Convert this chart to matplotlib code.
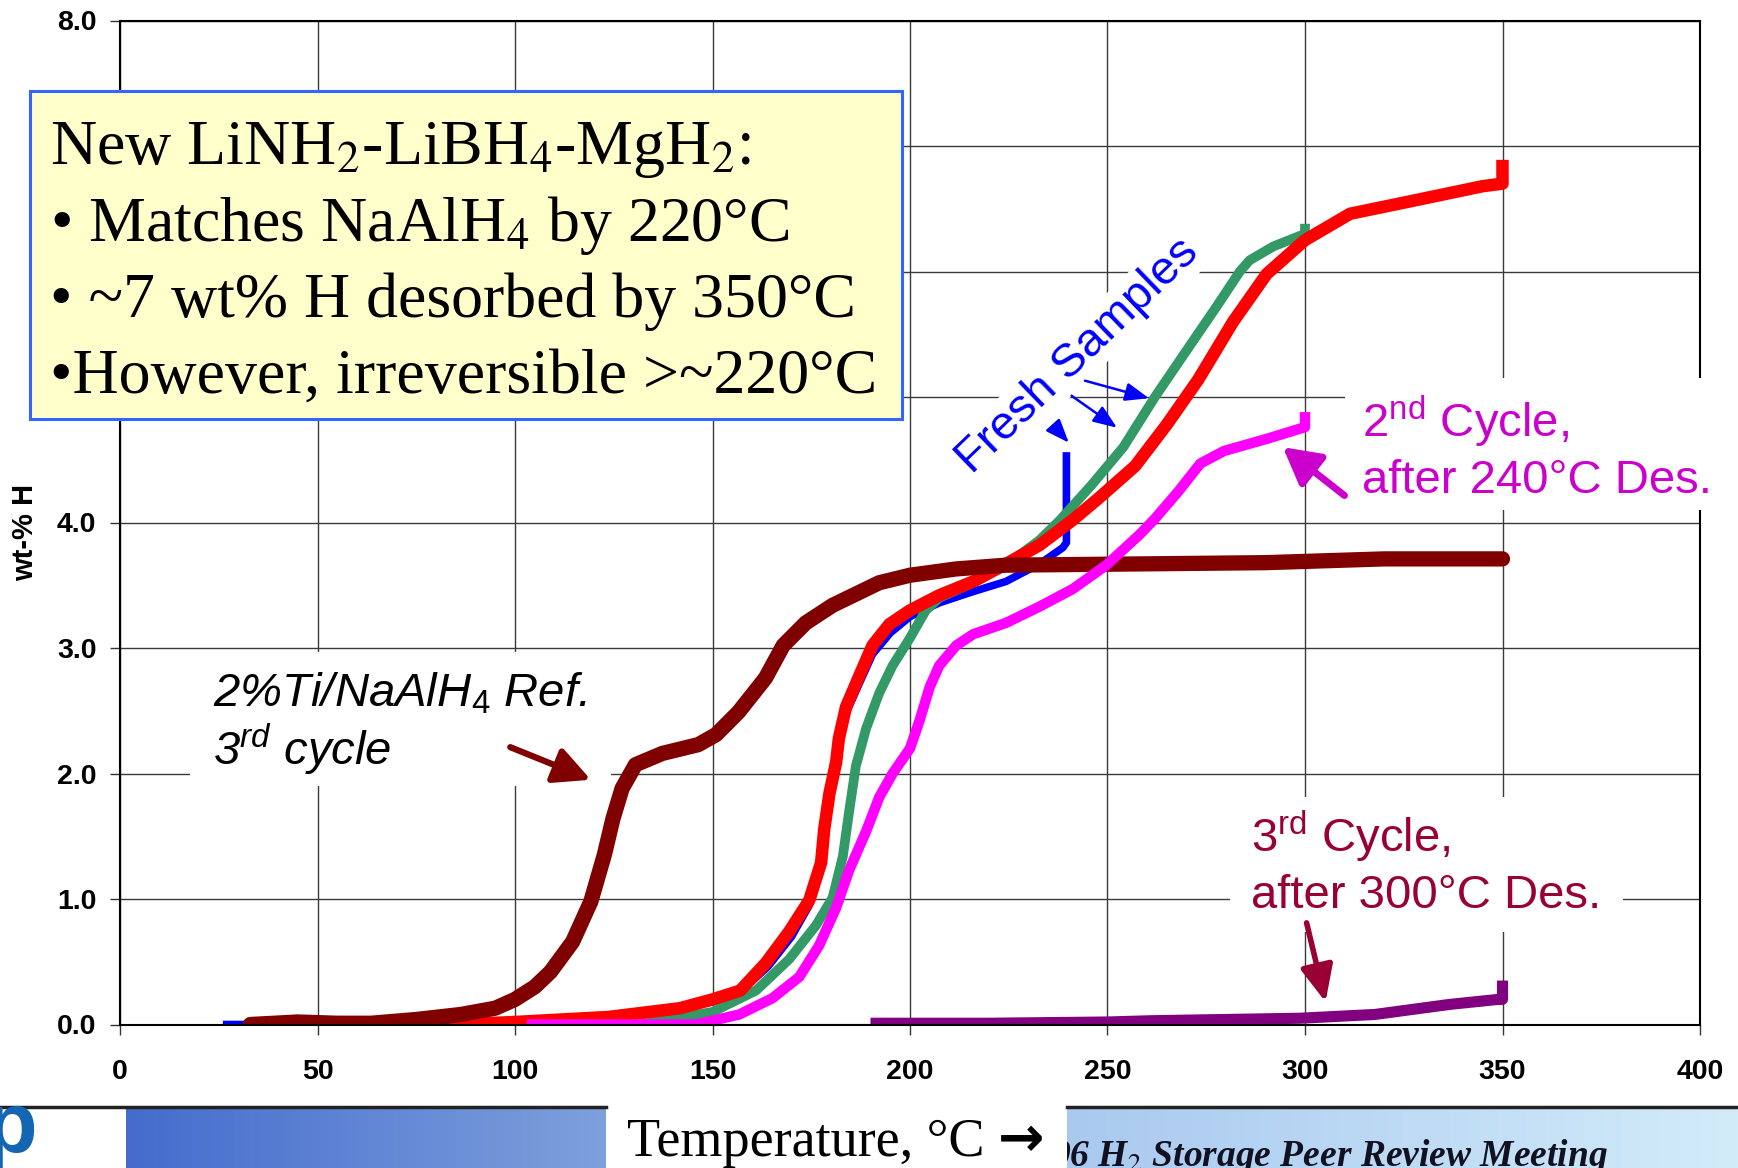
import numpy as np
import matplotlib.pyplot as plt
from matplotlib import font_manager
from matplotlib.patches import Rectangle
from matplotlib.lines import Line2D
from matplotlib.colors import LinearSegmentedColormap

# ---- data: temperature (C) vs wt-% H ----
# 2%Ti/NaAlH4 reference, 3rd cycle (dark red)
ref_x = [33, 45, 55, 63.6, 75, 86.3, 95, 100, 105, 109, 114.6, 119.2, 122.6, 124.8,
         127.1, 130.5, 137.3, 146.4, 150.9, 156.6, 163.4, 167.9, 173.6, 180.4, 192.2,
         200, 211.7, 224.3, 258, 290, 320, 350]
ref_y = [0.0, 0.02, 0.01, 0.01, 0.04, 0.08, 0.13, 0.2, 0.3, 0.42, 0.66, 0.98, 1.35, 1.64,
         1.88, 2.07, 2.16, 2.23, 2.31, 2.49, 2.76, 3.02, 3.2, 3.34, 3.52,
         3.58, 3.63, 3.66, 3.67, 3.68, 3.71, 3.71]

# fresh sample 1 (blue)
fresh1_x = [27, 40, 60, 80, 100, 120, 140, 150, 157, 164, 170, 174.5, 177.5, 178.3,
            179.6, 181.3, 182, 183.8, 187.2, 190.5, 195, 200, 207.4, 216, 224.3,
            232.8, 238.7, 239.6, 239.6]
fresh1_y = [0.0, 0.0, 0.0, 0.01, 0.02, 0.05, 0.12, 0.18, 0.26, 0.46, 0.7, 0.95, 1.27, 1.54,
            1.82, 2.07, 2.26, 2.48, 2.72, 2.95, 3.12, 3.25, 3.36, 3.45, 3.53,
            3.67, 3.8, 3.84, 4.53]

# fresh sample 2 (red)
fresh2_x = [85, 100, 123.7, 141.8, 150, 157, 163.5, 169.4, 174.5, 177.5, 178.3, 179.6,
            181.3, 182, 183.8, 187.2, 190.5, 194.8, 200, 207.4, 216, 224.3, 232.8,
            241.2, 248, 257, 265, 273, 281.8, 290.3, 300, 311.4, 328.3, 345, 350, 350]
fresh2_y = [0.0, 0.02, 0.06, 0.13, 0.2, 0.27, 0.49, 0.74, 0.99, 1.29, 1.56, 1.84,
            2.09, 2.28, 2.53, 2.78, 3.02, 3.19, 3.3, 3.42, 3.53, 3.67, 3.82,
            4.02, 4.2, 4.45, 4.78, 5.14, 5.6, 5.98, 6.25, 6.46, 6.57, 6.68, 6.7, 6.84]

# fresh sample 3 (green)
fresh3_x = [86, 100, 120, 131.4, 150, 161, 169.4, 176.2, 180.4, 183, 184.6, 186.3,
            188.9, 192.2, 195.6, 200, 204, 207.4, 216, 224.3, 232.8, 238, 246, 254,
            262, 270, 277.6, 283.5, 286, 292, 300, 300]
fresh3_y = [0.0, 0.0, 0.0, 0.0, 0.1, 0.27, 0.52, 0.79, 1.01, 1.34, 1.7, 2.06,
            2.36, 2.64, 2.86, 3.08, 3.3, 3.4, 3.52, 3.66, 3.86, 4.02, 4.3, 4.6,
            5.0, 5.37, 5.72, 6.0, 6.09, 6.2, 6.3, 6.38]

# 2nd cycle, after 240C desorption (magenta)
cyc2_x = [103, 130, 145.8, 156.8, 165.2, 172, 177, 181.3, 184.6, 188.9, 192.2, 195.6,
          200, 202.4, 205, 207.4, 211.7, 216, 224.3, 232.8, 241.2, 249.7, 258, 262,
          268, 273.5, 279.5, 290.7, 300, 300]
cyc2_y = [0.0, 0.0, 0.0, 0.08, 0.21, 0.38, 0.63, 0.93, 1.23, 1.54, 1.81, 2.0,
          2.2, 2.42, 2.69, 2.86, 3.02, 3.11, 3.2, 3.33, 3.47, 3.66, 3.9, 4.03,
          4.25, 4.47, 4.57, 4.67, 4.76, 4.88]

# 3rd cycle, after 300C desorption (purple)
cyc3_lead_x = [30, 190]
cyc3_lead_y = [0.0, 0.0]
cyc3_x = [190, 220, 250, 261, 280, 298.8, 317.7, 336.6, 348.9, 350, 350]
cyc3_y = [0.01, 0.01, 0.02, 0.03, 0.04, 0.05, 0.08, 0.16, 0.2, 0.2, 0.35]

x_ticks = [0, 50, 100, 150, 200, 250, 300, 350, 400]
y_ticks = [0, 1, 2, 3, 4, 5, 6, 7, 8]
# 5.0-7.0 sit under the yellow note box in the original
y_labels = ['0.0', '1.0', '2.0', '3.0', '4.0', '', '', '', '8.0']

# ---- fonts ----
installed = {f.name for f in font_manager.fontManager.ttflist}
narrow = 'Liberation Sans Narrow' in installed
tick_family = 'Liberation Sans Narrow' if narrow else 'Liberation Sans'
tick_size = 24 if narrow else 20.5

plt.rcParams['font.family'] = ['Liberation Sans', 'DejaVu Sans']
plt.rcParams['mathtext.fontset'] = 'custom'
plt.rcParams['mathtext.rm'] = 'Liberation Sans'
plt.rcParams['mathtext.it'] = 'Liberation Sans:italic'
plt.rcParams['mathtext.bf'] = 'Liberation Sans:bold'

W, H = 1738, 1168
fig = plt.figure(figsize=(W / 100, H / 100), dpi=100)


def fx(px):
    return px / W


def fy(py):
    return 1 - py / H


ax = fig.add_axes([fx(120), fy(1024.5), (1700 - 120) / W, (1024.5 - 20.5) / H])
ax.set_xlim(0, 400)
ax.set_ylim(0, 8)
ax.set_xticks(x_ticks, labels=[str(t) for t in x_ticks], fontsize=tick_size,
              fontweight='bold', fontfamily=tick_family)
ax.set_yticks(y_ticks, labels=y_labels, fontsize=tick_size,
              fontweight='bold', fontfamily=tick_family)
ax.tick_params(axis='x', length=7, width=1, pad=18, color='#333333')
ax.tick_params(axis='y', length=7, width=1, pad=10, color='#333333')
ax.grid(True, color='#3a3a3a', lw=1.0)
ax.set_axisbelow(True)
for s in ax.spines.values():
    s.set_color('black')
    s.set_linewidth(1.5)

ax.set_ylabel('wt-% H', fontsize=21, fontweight='bold')
ax.yaxis.set_label_coords(-0.051, 0.49)

# ---- curves ----
ax.plot(cyc3_lead_x, cyc3_lead_y, color='#800080', lw=1.5, zorder=2.0)
ax.plot(fresh1_x, fresh1_y, color='#0000FF', lw=5.5, solid_capstyle='projecting',
        solid_joinstyle='round', zorder=2.05)
ax.plot(fresh3_x, fresh3_y, color='#339966', lw=7, solid_capstyle='butt',
        solid_joinstyle='round', zorder=2.1)
ax.plot(fresh2_x, fresh2_y, color='#FF0000', lw=9, solid_capstyle='projecting',
        solid_joinstyle='round', zorder=2.2)
ax.plot(ref_x, ref_y, color='#800000', lw=11, solid_capstyle='round',
        solid_joinstyle='round', zorder=2.3)
ax.plot(cyc2_x, cyc2_y, color='#FF00FF', lw=7.5, solid_capstyle='butt',
        solid_joinstyle='round', zorder=2.4)
ax.plot(cyc3_x, cyc3_y, color='#800080', lw=8, solid_capstyle='butt',
        solid_joinstyle='round', zorder=2.5)

# ---- annotations ----
ax.add_patch(Rectangle((17.8, 1.9), 106.5, 1.07, fc='white', ec='none', zorder=1.5))
ax.text(23.5, 2.53, '2%Ti/NaAlH$_\\mathit{4}$ Ref.', fontsize=34, fontstyle='italic',
        va='baseline', ha='left', zorder=1.6)
ax.text(23.5, 2.07, '3$^{\\mathit{rd}}$ cycle', fontsize=34, fontstyle='italic',
        va='baseline', ha='left', zorder=1.6)
ax.annotate('', xy=(119.2, 1.95), xytext=(98.8, 2.21),
            arrowprops=dict(arrowstyle='-|>,head_length=1.0,head_width=0.5',
                            lw=4.5, color='#800000', mutation_scale=22,
                            shrinkA=0, shrinkB=0), zorder=4)

ax.add_patch(Rectangle((310, 4.1), 102, 1.05, fc='white', ec='none', zorder=2.6,
                       clip_on=False))
ax.text(314.5, 4.68, '2$^{\\mathrm{nd}}$ Cycle,', fontsize=34, color='#CC00CC',
        va='baseline', ha='left', zorder=2.7, clip_on=False)
ax.text(314.5, 4.235, 'after 240°C Des.', fontsize=34, color='#CC00CC',
        va='baseline', ha='left', zorder=2.7, clip_on=False)
ax.annotate('', xy=(294.4, 4.6), xytext=(310, 4.215),
            arrowprops=dict(arrowstyle='-|>,head_length=1.0,head_width=0.55',
                            lw=5, color='#CC00CC', mutation_scale=22,
                            shrinkA=0, shrinkB=0), zorder=4)

ax.add_patch(Rectangle((281, 0.74), 99.4, 1.07, fc='white', ec='none', zorder=1.5))
ax.text(286.3, 1.38, '3$^{\\mathrm{rd}}$ Cycle,', fontsize=34, color='#990033',
        va='baseline', ha='left', zorder=1.6)
ax.text(286.3, 0.93, 'after 300°C Des.', fontsize=34, color='#990033',
        va='baseline', ha='left', zorder=1.6)
ax.annotate('', xy=(305.2, 0.18), xytext=(300.4, 0.81),
            arrowprops=dict(arrowstyle='-|>,head_length=1.0,head_width=0.45',
                            lw=4, color='#990033', mutation_scale=22,
                            shrinkA=0, shrinkB=0), zorder=4)

ax.text(242.5, 5.33, 'Fresh Samples', fontsize=34, color='#0000FF', rotation=44,
        rotation_mode='anchor', ha='center', va='center', zorder=1.6,
        bbox=dict(fc='white', ec='none', pad=2))
fresh_arrows = [((236.8, 4.755), (240.2, 4.636)),
                ((240.9, 5.01), (252.4, 4.755)),
                ((244.3, 5.13), (260.5, 4.99))]
for tail, head in fresh_arrows:
    ax.annotate('', xy=head, xytext=tail,
                arrowprops=dict(arrowstyle='-|>,head_length=0.9,head_width=0.35',
                                lw=1.8, color='#0000FF', mutation_scale=16,
                                shrinkA=0, shrinkB=0), zorder=4)

# ---- yellow text box ----
fig.add_artist(Rectangle((fx(30), fy(419)), (902 - 30) / W, (419 - 91) / H,
                         transform=fig.transFigure, fc='#FFFFCC', ec='#3366FF',
                         lw=2.2, zorder=10))
box_lines = ['New LiNH$_2$-LiBH$_4$-MgH$_2$:',
             '\u2022 Matches NaAlH$_4$ by 220°C',
             '\u2022 ~7 wt% H desorbed by 350°C',
             '\u2022However, irreversible >~220°C']
box_base = [164, 241, 317, 393]
for txt, yb in zip(box_lines, box_base):
    fig.text(fx(50), fy(yb), txt, fontsize=46, family=['Liberation Serif', 'DejaVu Serif'],
             math_fontfamily='stix', va='baseline', ha='left', zorder=11)

# ---- bottom banner ----
bh = (1168 - 1109) / H
ban1 = fig.add_axes([fx(126), 0, (606 - 126) / W, bh])
ban1.imshow(np.linspace(0, 1, 256).reshape(1, -1), aspect='auto', extent=[0, 1, 0, 1],
            cmap=LinearSegmentedColormap.from_list('b1', ['#446CCD', '#7EA0DC']))
ban1.axis('off')

ban2 = fig.add_axes([fx(1067), 0, (W - 1067) / W, bh])
ban2.imshow(np.linspace(0, 1, 256).reshape(1, -1), aspect='auto', extent=[0, 1, 0, 1],
            cmap=LinearSegmentedColormap.from_list('b2', ['#A9C9EF', '#D3ECFA']))
ban2.set_xlim(0, 1)
ban2.set_ylim(0, 1)
ban2.axis('off')
ban2.text(-0.024, 0.03, '06 H$_2$ Storage Peer Review Meeting', fontsize=27,
          family='Liberation Serif', fontweight='bold', fontstyle='italic',
          math_fontfamily='stix', color='#111122', va='baseline', ha='left', clip_on=True)

fig.add_artist(Line2D([0, fx(606)], [fy(1107), fy(1107)], transform=fig.transFigure,
                      color='#222222', lw=2.5))
fig.add_artist(Line2D([fx(1067), 1], [fy(1107), fy(1107)], transform=fig.transFigure,
                      color='#222222', lw=2.5))
fig.text(fx(-16), fy(1152), 'p', fontsize=62, fontweight='bold', color='#1566B2',
         va='baseline', ha='left')

fig.text(fx(627), fy(1156), 'Temperature, °C', fontsize=39,
         family=['Liberation Serif', 'DejaVu Serif'], va='baseline', ha='left')
fig.text(fx(998), fy(1156), '\u2192', fontsize=40, fontweight='bold',
         family='DejaVu Sans', va='baseline', ha='left')

fig.savefig('out.png', dpi=100)
